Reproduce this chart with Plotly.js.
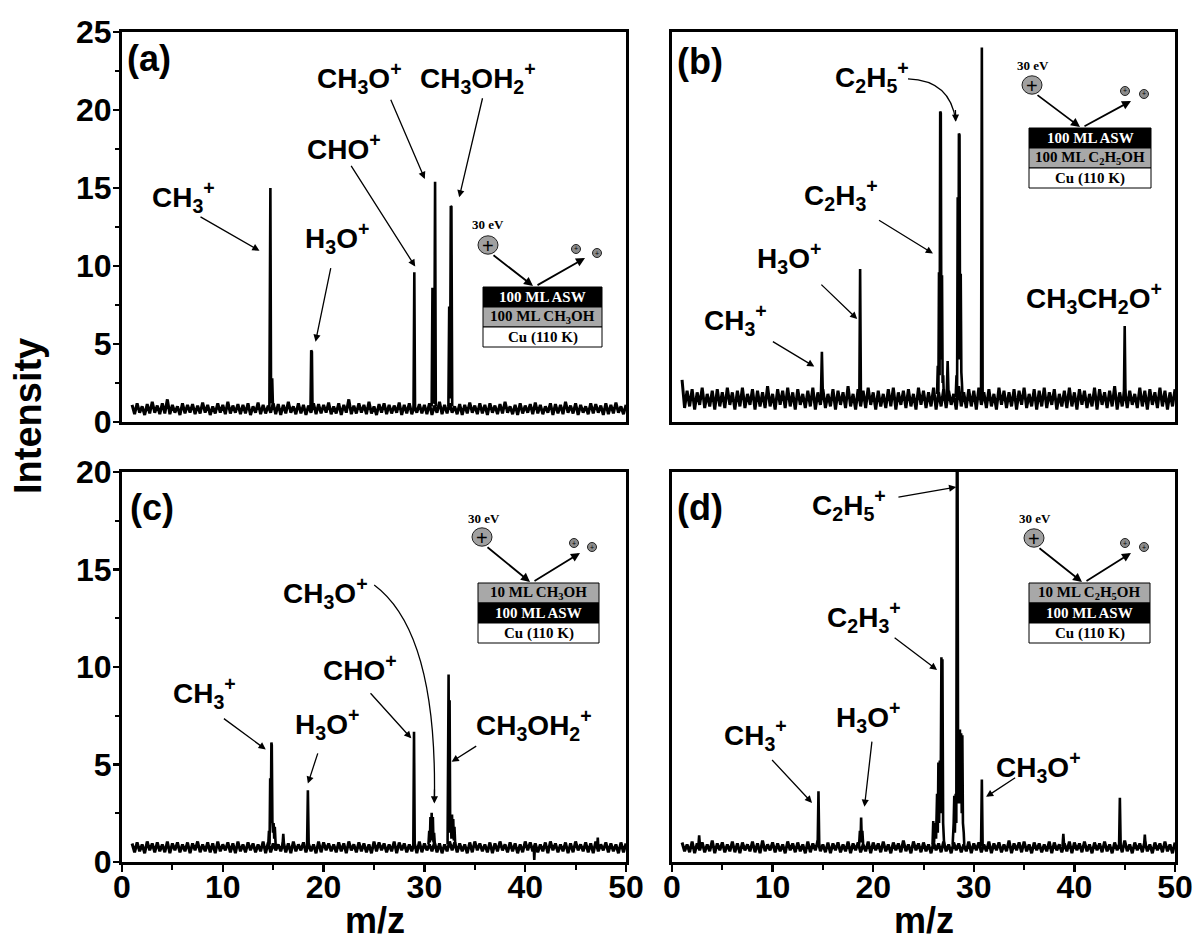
<!DOCTYPE html>
<html>
<head>
<meta charset="utf-8">
<script src="https://cdn.plot.ly/plotly-3.0.1.min.js"></script>
<style>html,body{margin:0;padding:0;background:#fff;}#chart{width:1200px;height:945px;}</style>
</head>
<body>
<div id="chart"></div>
<script>
// ---------- DATA ----------
// baseline samples start at m/z 1 with a step of 0.25
const mzStart = 1;
const mzStep = 0.25;

const baseA = [1.1,0.5,1.2,0.6,1.0,0.45,1.15,0.55,1.3,0.6,1.05,0.5,1.2,0.55,1.45,0.5,1.1,0.6,1.0,0.45,
1.2,0.55,1.1,0.6,1.15,0.5,1.05,0.55,1.25,0.6,1.1,0.45,1.0,0.55,1.2,0.6,1.1,0.5,1.3,0.55,
1.05,0.6,1.15,0.5,1.1,0.55,1.2,0.45,1.0,0.6,1.25,0.5,1.1,0.55,1.05,0.6,1.2,0.5,1.15,0.45,
1.1,0.55,1.3,0.6,1.0,0.5,1.2,0.55,1.1,0.45,1.05,0.6,1.2,0.5,1.15,0.55,1.1,0.6,1.25,0.5,
1.0,0.55,1.2,0.45,1.1,0.6,1.45,0.5,1.05,0.55,1.2,0.6,1.1,0.5,1.3,0.55,1.0,0.45,1.15,0.6,
1.2,0.5,1.1,0.55,1.05,0.6,1.25,0.45,1.1,0.55,1.2,0.5,1.0,0.6,1.15,0.55,1.1,0.5,1.2,0.45,
1.05,0.6,1.3,0.5,1.1,0.55,1.2,0.6,1.0,0.5,1.15,0.45,1.1,0.55,1.25,0.6,1.05,0.5,1.2,0.55,
1.1,0.45,1.2,0.6,1.05,0.5,1.15,0.55,1.3,0.6,1.0,0.5,1.1,0.45,1.2,0.55,1.05,0.6,1.15,0.5,
1.25,0.55,1.1,0.5,1.0,0.6,1.2,0.45,1.15,0.55,1.1,0.5,1.3,0.6,1.05,0.55,1.2,0.45,1.1,0.6,
1.0,0.5,1.2,0.55,1.15,0.6,1.05,0.45,1.2,0.5,1.1,0.55,1.25,0.6,1.0,0.5,1.1];

const baseB = [2.7,0.9,2.0,1.0,2.1,0.8,1.9,1.1,2.2,0.9,1.8,1.0,2.0,0.8,2.1,1.0,1.9,0.9,2.2,1.1,
1.9,0.8,2.0,1.0,2.2,0.9,1.8,1.1,2.1,0.8,2.0,1.0,1.9,0.9,2.3,1.0,1.8,0.8,2.1,1.1,
2.0,0.9,2.2,1.0,1.9,0.8,2.1,1.1,1.8,0.9,2.0,1.0,2.2,0.8,1.9,1.1,2.1,0.9,1.8,1.0,
2.1,0.8,2.0,1.1,1.9,0.9,2.3,1.0,1.8,0.8,2.1,1.0,2.0,0.9,2.2,1.1,1.9,0.8,2.0,1.0,
1.8,0.9,2.1,1.0,2.2,0.8,1.9,1.1,2.0,0.9,2.1,1.0,1.8,0.8,2.2,1.1,2.0,0.9,1.9,1.0,
2.2,0.8,1.9,1.0,2.1,0.9,2.0,1.1,1.8,0.8,2.3,1.0,1.9,0.9,2.1,1.0,2.0,0.8,2.2,1.1,
1.9,0.9,2.1,1.0,1.8,0.8,2.2,1.1,2.0,0.9,1.9,1.0,2.1,0.8,2.0,1.1,2.2,0.9,1.8,1.0,
2.1,0.8,2.0,1.0,2.2,0.9,1.9,1.1,2.1,0.8,1.8,1.0,2.0,0.9,2.2,1.0,1.9,0.8,2.1,1.1,
2.0,0.9,1.8,1.0,2.2,0.8,2.1,1.1,1.9,0.9,2.0,1.0,2.3,0.8,1.9,1.0,2.1,0.9,2.0,1.1,
1.8,0.9,2.2,1.0,2.0,0.8,2.1,1.1,1.9,0.9,2.2,1.0,2.0,0.8,1.9,1.0,2.1];

const baseC = [0.95,0.5,1.0,0.55,0.9,0.45,1.05,0.6,0.95,0.5,1.0,0.55,0.9,0.5,1.05,0.45,0.95,0.6,1.0,0.5,
0.9,0.55,1.0,0.45,0.95,0.6,1.05,0.5,0.9,0.55,1.0,0.5,0.95,0.45,1.05,0.55,0.9,0.6,1.0,0.5,
0.95,0.45,1.05,0.55,0.9,0.5,1.0,0.6,0.95,0.5,0.9,0.55,1.05,0.45,1.0,0.5,0.95,0.6,0.9,0.55,
1.0,0.5,0.95,0.45,1.05,0.55,0.9,0.6,1.0,0.5,0.95,0.55,0.9,0.45,1.05,0.5,1.0,0.6,0.95,0.55,
0.9,0.5,1.0,0.55,0.95,0.45,1.05,0.6,0.9,0.5,1.0,0.55,0.95,0.5,0.9,0.45,1.05,0.55,1.0,0.6,
0.95,0.5,0.9,0.55,1.05,0.45,1.0,0.6,0.95,0.5,0.9,0.55,1.0,0.45,1.05,0.5,0.95,0.6,0.9,0.55,
1.0,0.5,0.95,0.45,0.9,0.55,1.05,0.6,1.0,0.5,0.95,0.55,0.9,0.45,1.0,0.5,1.05,0.6,0.95,0.55,
0.9,0.5,1.0,0.45,0.95,0.55,1.05,0.6,0.9,0.5,1.0,0.55,0.95,0.45,0.9,0.5,1.05,0.6,1.0,0.55,
0.95,0.5,0.9,0.55,1.0,0.45,1.05,0.6,0.95,0.5,0.9,0.55,1.0,0.45,0.95,0.5,1.05,0.6,0.9,0.55,
1.0,0.5,0.95,0.45,1.05,0.55,0.9,0.6,1.0,0.5,0.95,0.55,0.9,0.45,1.0,0.5,0.95];

const baseD = [1.0,0.55,0.9,0.5,1.05,0.45,0.95,0.6,1.0,0.5,0.9,0.55,1.1,0.45,0.95,0.6,1.0,0.5,0.9,0.55,
1.05,0.5,0.95,0.45,1.0,0.6,0.9,0.55,1.05,0.5,0.95,0.45,1.1,0.55,0.9,0.6,1.0,0.5,0.95,0.55,
0.9,0.45,1.05,0.6,0.95,0.5,1.0,0.55,0.9,0.45,1.05,0.5,0.95,0.6,1.1,0.55,0.9,0.5,1.0,0.45,
0.95,0.6,1.0,0.5,0.9,0.55,1.05,0.45,0.95,0.6,1.0,0.5,0.9,0.55,1.05,0.45,1.0,0.6,0.95,0.5,
1.05,0.55,0.9,0.45,1.0,0.6,0.95,0.5,1.1,0.55,0.9,0.45,1.05,0.6,0.95,0.5,1.0,0.55,0.9,0.45,
1.0,0.6,0.95,0.5,1.05,0.55,0.9,0.45,1.0,0.6,0.95,0.5,0.9,0.55,1.05,0.45,0.95,0.6,1.0,0.5,
0.9,0.55,1.05,0.45,0.95,0.6,1.0,0.5,0.9,0.55,1.1,0.45,0.95,0.6,1.0,0.5,1.05,0.55,0.9,0.45,
1.0,0.6,0.95,0.5,0.9,0.55,1.05,0.45,1.0,0.6,0.9,0.5,0.95,0.55,1.05,0.45,1.0,0.6,0.95,0.5,
1.05,0.55,0.9,0.45,1.0,0.6,0.95,0.5,1.05,0.55,0.9,0.45,1.0,0.6,0.95,0.5,1.1,0.55,0.9,0.45,
1.0,0.6,0.95,0.5,1.05,0.55,0.9,0.45,1.0,0.6,0.95,0.5,1.05,0.55,0.9,0.45,1.0];

// peaks (m/z, intensity); null separates peaks
const peakMzA  = [14.62,14.72,14.78,14.84,14.9,14.98,null, 18.7,18.77,18.84,18.9,null, 28.92,29.0,29.07,null,
                  30.72,30.8,30.88,30.97,31.06,31.13,null, 32.38,32.46,32.54,32.62,32.68,32.76];
const peakIntA = [0.9,15.0,2.8,1.2,2.8,0.9,null, 0.9,4.6,4.5,0.9,null, 0.9,9.6,0.9,null,
                  1.0,8.6,1.2,1.3,15.4,1.0,null, 1.0,7.4,1.5,13.85,13.8,1.0];

const peakMzB  = [14.8,14.9,15.0,null, 18.62,18.7,18.78,null,
                  26.35,26.42,26.48,26.54,26.6,26.66,26.72,26.78,26.84,26.9,26.96,27.02,null,
                  27.3,27.4,27.5,null,
                  28.2,28.28,28.34,28.4,28.46,28.52,28.58,28.64,28.7,28.76,28.82,28.88,null,
                  30.72,30.8,30.88,null, 44.92,45.0,45.08];
const peakIntB = [1.6,4.5,1.6,null, 1.5,9.8,1.5,null,
                  1.8,3.6,1.8,9.6,3.0,19.9,19.8,4.0,9.4,2.5,3.0,1.6,null,
                  1.6,3.9,1.5,null,
                  1.6,3.0,2.0,14.4,4.0,18.5,18.4,4.0,9.5,3.2,2.5,1.6,null,
                  1.5,24.0,1.5,null, 1.5,6.15,1.5];

const peakMzC  = [14.5,14.58,14.64,14.7,14.76,14.82,14.86,14.92,14.98,15.04,15.1,15.16,15.24,15.3,null,
                  15.92,16.0,16.08,null, 18.36,18.44,18.52,null,
                  28.9,28.97,29.04,null,
                  30.4,30.48,30.54,30.6,30.66,30.72,30.78,30.84,30.9,30.96,31.05,null,
                  32.3,32.4,32.46,32.5,32.56,32.62,32.68,32.74,32.8,32.86,32.92,32.98,33.05,33.1,null,
                  40.85,40.9,40.95,null, 47.15,47.2,47.25];
const peakIntC = [0.8,1.6,0.9,4.3,2.0,6.13,6.0,2.1,1.5,2.0,1.2,1.8,0.9,0.8,null,
                  0.8,1.45,0.8,null, 0.8,3.68,0.9,null,
                  0.8,6.68,0.8,null,
                  0.9,1.6,1.0,2.3,1.1,2.52,1.1,2.3,1.0,1.5,0.8,null,
                  0.9,9.62,1.5,8.3,1.5,2.4,1.2,2.43,1.2,2.2,1.1,1.8,1.0,0.8,null,
                  0.7,0.1,0.7,null, 0.8,1.25,0.8];

const peakMzD  = [2.62,2.7,2.78,null, 14.48,14.56,14.64,null,
                  18.6,18.68,18.74,18.8,18.86,18.92,19.0,null,
                  25.9,25.97,26.05,26.15,26.25,26.35,26.42,26.48,26.55,26.62,26.7,26.78,26.84,26.88,26.95,27.05,null,
                  27.9,28.0,28.06,28.12,28.2,28.26,28.32,28.38,28.44,28.5,28.56,28.62,28.68,28.74,28.8,28.86,28.92,29.0,29.05,null,
                  30.72,30.8,30.88,null, 38.82,38.9,38.98,null, 44.44,44.52,44.6,null, 46.92,47.0,47.08];
const peakIntD = [0.8,1.37,0.8,null, 0.8,3.63,0.8,null,
                  0.9,1.6,1.0,2.28,1.2,1.6,0.9,null,
                  0.9,2.1,1.0,2.0,1.2,3.5,1.5,5.1,2.0,5.2,2.5,10.5,3.0,10.4,2.0,0.9,null,
                  0.9,2.0,3.4,1.5,3.5,2.0,22,22,3.0,6.8,3.0,6.8,3.0,6.6,2.5,6.5,2.0,1.5,0.9,null,
                  0.8,4.23,0.8,null, 0.8,1.45,0.8,null, 0.8,3.29,0.8,null, 0.8,1.4,0.8];

const xTickVals = [0,10,20,30,40,50];
const yTickValsTop = [0,5,10,15,20,25];
const yTickValsBot = [0,5,10,15,20];

// ---------- LAYOUT HELPERS ----------
const W = 1200, H = 945, ML = 122, MR = 25, MT = 32, MB = 83;
const PW = W - ML - MR, PH = H - MT - MB;
const px = x => (x - ML) / PW;
const py = y => (H - MB - y) / PH;

const FONT = 'Liberation Sans, Arial, Helvetica, sans-serif';
const SERIF = 'Liberation Serif, Times New Roman, serif';

const panels = [
  {base: baseA, mz: peakMzA, it: peakIntA, xa: 'x',  ya: 'y'},
  {base: baseB, mz: peakMzB, it: peakIntB, xa: 'x2', ya: 'y2'},
  {base: baseC, mz: peakMzC, it: peakIntC, xa: 'x3', ya: 'y3'},
  {base: baseD, mz: peakMzD, it: peakIntD, xa: 'x4', ya: 'y4'}
];

const traces = [];
panels.forEach(p => {
  traces.push({type: 'scatter', mode: 'lines', x0: mzStart, dx: mzStep, y: p.base,
    xaxis: p.xa, yaxis: p.ya, line: {color: '#000', width: 3, simplify: false}, hoverinfo: 'skip', showlegend: false});
  traces.push({type: 'scatter', mode: 'lines', x: p.mz, y: p.it, connectgaps: false,
    xaxis: p.xa, yaxis: p.ya, line: {color: '#000', width: 2.6, simplify: false}, hoverinfo: 'skip', showlegend: false});
});

const annotations = [];
const shapes = [];

function lab(xa, ya, x, y, text, size) {
  annotations.push({xref: xa, yref: ya, x: x, y: y, text: '<b>' + text + '</b>', showarrow: false,
    font: {family: FONT, size: size || 28, color: '#000'}, xanchor: 'center', yanchor: 'middle'});
}
function arr(xa, ya, x0, y0, x1, y1) {
  annotations.push({xref: xa, yref: ya, axref: xa, ayref: ya, x: x1, y: y1, ax: x0, ay: y0, text: '',
    showarrow: true, arrowhead: 2, arrowsize: 1.1, arrowwidth: 1.3, arrowcolor: '#000', standoff: 0});
}
function curve(xa, ya, path, x1, y1, xt, yt) {
  shapes.push({type: 'path', xref: xa, yref: ya, path: path, line: {color: '#000', width: 1.3}});
  arr(xa, ya, xt, yt, x1, y1);
}
function panelLabel(xa, ya, x, y, text) {
  annotations.push({xref: xa, yref: ya, x: x, y: y, text: '<b>' + text + '</b>', showarrow: false,
    font: {family: FONT, size: 36, color: '#000'}, xanchor: 'left', yanchor: 'middle'});
}

// panel (a)
panelLabel('x', 'y', 0.3, 23.3, '(a)');
lab('x', 'y', 6.1, 14.4, 'CH<sub>3</sub><sup>+</sup>');
arr('x', 'y', 7.64, 13.2, 13.64, 10.98);
lab('x', 'y', 21.3, 11.8, 'H<sub>3</sub>O<sup>+</sup>');
arr('x', 'y', 20.74, 9.96, 19.2, 5.15);
lab('x', 'y', 22.07, 17.65, 'CHO<sup>+</sup>');
arr('x', 'y', 22.64, 16.52, 29.09, 9.96);
lab('x', 'y', 23.6, 22.03, 'CH<sub>3</sub>O<sup>+</sup>');
arr('x', 'y', 26.6, 20.75, 30.04, 15.58);
lab('x', 'y', 35.36, 22.03, 'CH<sub>3</sub>OH<sub>2</sub><sup>+</sup>');
arr('x', 'y', 35.8, 20.85, 33.45, 14.4);

// panel (b)
panelLabel('x2', 'y2', 0.26, 23.1, '(b)');
lab('x2', 'y2', 19.85, 22.1, 'C<sub>2</sub>H<sub>5</sub><sup>+</sup>');
curve('x2', 'y2', 'M 23.46 22.0 Q 27.7 21.9 28.2 19.3', 28.2, 19.25, 28.17, 20.1);
lab('x2', 'y2', 16.8, 14.55, 'C<sub>2</sub>H<sub>3</sub><sup>+</sup>');
arr('x2', 'y2', 20.43, 12.99, 25.94, 10.8);
lab('x2', 'y2', 11.67, 10.49, 'H<sub>3</sub>O<sup>+</sup>');
arr('x2', 'y2', 14.7, 8.9, 18.41, 6.6);
lab('x2', 'y2', 6.35, 6.54, 'CH<sub>3</sub><sup>+</sup>');
arr('x2', 'y2', 9.88, 5.21, 14.15, 3.55);
lab('x2', 'y2', 41.9, 7.93, 'CH<sub>3</sub>CH<sub>2</sub>O<sup>+</sup>');

// panel (c)
panelLabel('x3', 'y3', 0.57, 18.2, '(c)');
lab('x3', 'y3', 8.17, 8.65, 'CH<sub>3</sub><sup>+</sup>');
arr('x3', 'y3', 9.96, 7.41, 14.26, 5.77);
lab('x3', 'y3', 20.34, 7.1, 'H<sub>3</sub>O<sup>+</sup>');
arr('x3', 'y3', 19.47, 5.65, 18.44, 4.02);
lab('x3', 'y3', 23.57, 9.93, 'CHO<sup>+</sup>');
arr('x3', 'y3', 24.52, 8.73, 28.7, 6.34);
lab('x3', 'y3', 20.15, 13.78, 'CH<sub>3</sub>O<sup>+</sup>');
curve('x3', 'y3', 'M 25.02 14.21 Q 31.3 11.8 30.99 3.1', 30.99, 3.0, 31.0, 3.8);
lab('x3', 'y3', 40.87, 7.02, 'CH<sub>3</sub>OH<sub>2</sub><sup>+</sup>');
arr('x3', 'y3', 35.29, 5.99, 32.7, 5.14);

// panel (d)
panelLabel('x4', 'y4', 0.3, 18.2, '(d)');
lab('x4', 'y4', 17.6, 18.32, 'C<sub>2</sub>H<sub>5</sub><sup>+</sup>');
arr('x4', 'y4', 22.36, 18.7, 28.25, 19.23);
lab('x4', 'y4', 19.13, 12.59, 'C<sub>2</sub>H<sub>3</sub><sup>+</sup>');
arr('x4', 'y4', 21.98, 11.56, 26.35, 9.85);
lab('x4', 'y4', 19.5, 7.45, 'H<sub>3</sub>O<sup>+</sup>');
arr('x4', 'y4', 19.89, 6.25, 19.13, 2.83);
lab('x4', 'y4', 8.29, 6.51, 'CH<sub>3</sub><sup>+</sup>');
arr('x4', 'y4', 9.81, 5.31, 13.92, 3.03);
lab('x4', 'y4', 36.43, 4.88, 'CH<sub>3</sub>O<sup>+</sup>');
arr('x4', 'y4', 34.26, 4.37, 31.22, 3.34);

// ---------- INSET DIAGRAMS (pixel geometry) ----------
const insets = [
  {ev: [488, 224], big: [488, 245], tip1: [533, 286], tip2: [585, 258], smalls: [[576, 249], [597, 253]],
   box: [483, 602, 287], rows: [['#000', '#fff', '100 ML ASW'], ['#a8a8a8', '#000', '100 ML CH<sub>3</sub>OH'], ['#fff', '#000', 'Cu (110 K)']]},
  {ev: [1033, 65], big: [1032, 85], tip1: [1080, 127], tip2: [1131, 101], smalls: [[1125, 91], [1144, 94]],
   box: [1029, 1151, 128], rows: [['#000', '#fff', '100 ML ASW'], ['#a8a8a8', '#000', '100 ML C<sub>2</sub>H<sub>5</sub>OH'], ['#fff', '#000', 'Cu (110 K)']]},
  {ev: [484, 518], big: [482, 537], tip1: [530, 582], tip2: [580, 553], smalls: [[574, 543], [592, 547]],
   box: [478, 599, 583], rows: [['#a8a8a8', '#000', '10 ML CH<sub>3</sub>OH'], ['#000', '#fff', '100 ML ASW'], ['#fff', '#000', 'Cu (110 K)']]},
  {ev: [1035, 518], big: [1034, 538], tip1: [1082, 582], tip2: [1131, 553], smalls: [[1125, 543], [1144, 547]],
   box: [1029, 1150, 583], rows: [['#a8a8a8', '#000', '10 ML C<sub>2</sub>H<sub>5</sub>OH'], ['#000', '#fff', '100 ML ASW'], ['#fff', '#000', 'Cu (110 K)']]}
];
const ROWH = 20, RBIG = 10, RSMALL = 4.5;

insets.forEach(s => {
  s.rows.forEach((r, i) => {
    const y0 = s.box[2] + i * ROWH, y1 = y0 + ROWH;
    shapes.push({type: 'rect', xref: 'paper', yref: 'paper', x0: px(s.box[0]), x1: px(s.box[1]), y0: py(y1), y1: py(y0),
      fillcolor: r[0], line: {color: '#000', width: 1}, layer: 'above'});
    annotations.push({xref: 'paper', yref: 'paper', x: px((s.box[0] + s.box[1]) / 2), y: py((y0 + y1) / 2),
      text: '<b>' + r[2] + '</b>', showarrow: false, font: {family: SERIF, size: 15, color: r[1]},
      xanchor: 'center', yanchor: 'middle'});
  });
  shapes.push({type: 'circle', xref: 'paper', yref: 'paper', x0: px(s.big[0] - RBIG), x1: px(s.big[0] + RBIG),
    y0: py(s.big[1] + RBIG * 0.92), y1: py(s.big[1] - RBIG * 0.92), fillcolor: '#a0a0a0', line: {color: '#222', width: 1}, layer: 'above'});
  annotations.push({xref: 'paper', yref: 'paper', x: px(s.big[0]), y: py(s.big[1] + 1), text: '+', showarrow: false,
    font: {family: FONT, size: 20, color: '#000'}, xanchor: 'center', yanchor: 'middle'});
  annotations.push({xref: 'paper', yref: 'paper', x: px(s.ev[0]), y: py(s.ev[1]), text: '<b>30 eV</b>', showarrow: false,
    font: {family: SERIF, size: 13, color: '#000'}, xanchor: 'center', yanchor: 'middle'});
  s.smalls.forEach(c => {
    shapes.push({type: 'circle', xref: 'paper', yref: 'paper', x0: px(c[0] - RSMALL), x1: px(c[0] + RSMALL),
      y0: py(c[1] + RSMALL), y1: py(c[1] - RSMALL), fillcolor: '#8a8a8a', line: {color: '#222', width: 1}, layer: 'above'});
    annotations.push({xref: 'paper', yref: 'paper', x: px(c[0]), y: py(c[1]), text: '+', showarrow: false,
      font: {family: FONT, size: 7, color: '#000'}, xanchor: 'center', yanchor: 'middle'});
  });
  const st1 = [s.big[0] + 4, s.big[1] + 9];
  annotations.push({xref: 'paper', yref: 'paper', x: px(s.tip1[0]), y: py(s.tip1[1]), ax: st1[0] - s.tip1[0], ay: st1[1] - s.tip1[1],
    text: '', showarrow: true, arrowhead: 2, arrowsize: 1, arrowwidth: 1.8, arrowcolor: '#000', standoff: 0});
  const st2 = [s.tip1[0] + 3, s.tip1[1]];
  annotations.push({xref: 'paper', yref: 'paper', x: px(s.tip2[0]), y: py(s.tip2[1]), ax: st2[0] - s.tip2[0], ay: st2[1] - s.tip2[1],
    text: '', showarrow: true, arrowhead: 2, arrowsize: 1, arrowwidth: 1.8, arrowcolor: '#000', standoff: 0});
});

// axis titles
annotations.push({xref: 'paper', yref: 'paper', x: px(28), y: py(416), text: '<b>Intensity</b>', textangle: -90, showarrow: false,
  font: {family: FONT, size: 38, color: '#000'}, xanchor: 'center', yanchor: 'middle'});
annotations.push({xref: 'paper', yref: 'paper', x: px(375), y: py(920), text: '<b>m/z</b>', showarrow: false,
  font: {family: FONT, size: 36, color: '#000'}, xanchor: 'center', yanchor: 'middle'});
annotations.push({xref: 'paper', yref: 'paper', x: px(924), y: py(920), text: '<b>m/z</b>', showarrow: false,
  font: {family: FONT, size: 36, color: '#000'}, xanchor: 'center', yanchor: 'middle'});

// ---------- AXES ----------
const tickFont = {family: FONT, size: 32, color: '#000', weight: 'bold'};
const frame = {showline: true, linecolor: '#000', linewidth: 3, mirror: true, showgrid: false, zeroline: false};
const domL = [0, px(626)], domR = [px(672), 1], domT = [py(422), 1], domB = [0, py(472)];

function xAx(dom, anchor, labels) {
  return Object.assign({}, frame, {domain: dom, anchor: anchor, range: [0, 50], fixedrange: true,
    tickvals: xTickVals, showticklabels: labels, ticks: labels ? 'outside' : '', ticklen: 7, tickwidth: 2.5, tickcolor: '#000',
    tickfont: tickFont, ticklabelstandoff: -12,
    minor: labels ? {ticks: 'outside', ticklen: 5, tickwidth: 2, tickcolor: '#000', dtick: 5, showgrid: false} : {ticks: ''}});
}
function yAx(dom, anchor, top, labels) {
  return Object.assign({}, frame, {domain: dom, anchor: anchor, range: top ? [0, 25] : [0, 20], fixedrange: true,
    tickvals: top ? yTickValsTop : yTickValsBot, showticklabels: labels, ticks: labels ? 'outside' : '', ticklen: 6, tickwidth: 2.5,
    tickcolor: '#000', tickfont: tickFont, ticklabelstandoff: -5,
    minor: labels ? {ticks: 'outside', ticklen: 4, tickwidth: 2, tickcolor: '#000', dtick: 2.5, showgrid: false} : {ticks: ''}});
}

const layout = {
  width: W, height: H, margin: {l: ML, r: MR, t: MT, b: MB, pad: 0},
  paper_bgcolor: '#fff', plot_bgcolor: '#fff', showlegend: false,
  xaxis: xAx(domL, 'y', false), yaxis: yAx(domT, 'x', true, true),
  xaxis2: xAx(domR, 'y2', false), yaxis2: yAx(domT, 'x2', true, false),
  xaxis3: xAx(domL, 'y3', true), yaxis3: yAx(domB, 'x3', false, true),
  xaxis4: xAx(domR, 'y4', true), yaxis4: yAx(domB, 'x4', false, false),
  annotations: annotations, shapes: shapes
};

Plotly.newPlot('chart', traces, layout, {staticPlot: true, displayModeBar: false});
</script>
</body>
</html>
